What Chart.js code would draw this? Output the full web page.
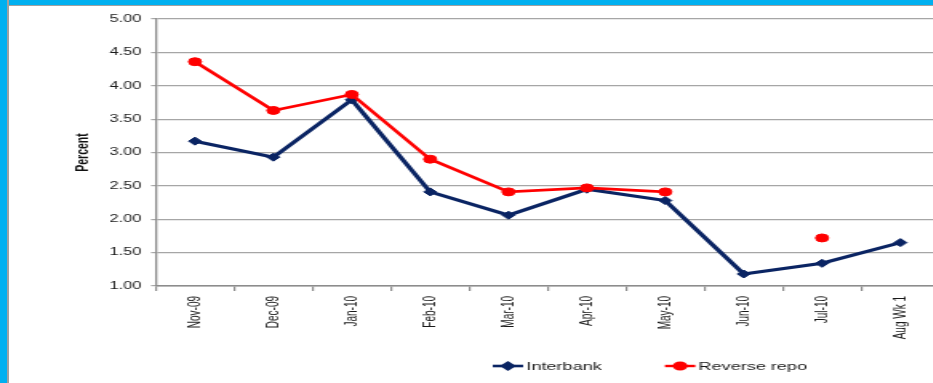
<!DOCTYPE html>
<html>
<head>
<meta charset="utf-8">
<script src="https://cdn.jsdelivr.net/npm/chart.js@4/dist/chart.umd.min.js"></script>
<style>
html,body{margin:0;padding:0;width:933px;height:383px;overflow:hidden;background:#fff;}
#wrap{position:absolute;left:0;top:0;width:592.3px;height:383px;transform:scaleX(1.6);transform-origin:0 0;}
#bl{position:absolute;left:0;top:0;width:7px;height:383px;background:#00b0f0;border-right:2px solid #a0a0a0;z-index:3;}
#bt{position:absolute;left:0;top:0;width:933px;height:5px;background:#00b0f0;border-bottom:1.5px solid #a0a0a0;z-index:2;}
</style>
</head>
<body>
<div id="bt"></div>
<div id="bl"></div>
<div id="wrap"><canvas id="c"></canvas></div>
<script>
const categories = ['Nov-09','Dec-09','Jan-10','Feb-10','Mar-10','Apr-10','May-10','Jun-10','Jul-10','Aug Wk 1'];
const seriesNames = ['Interbank','Reverse repo'];
const interbank = [3.17, 2.93, 3.79, 2.41, 2.06, 2.45, 2.28, 1.18, 1.34, 1.65];
const reverseRepo = [4.36, 3.63, 3.87, 2.90, 2.41, 2.47, 2.41, null, 1.72, null];
const yTickValues = [1.00, 1.50, 2.00, 2.50, 3.00, 3.50, 4.00, 4.50, 5.00];
const yTickLabels = ['1.00','1.50','2.00','2.50','3.00','3.50','4.00','4.50','5.00'];
const yTitle = 'Percent';

const NAVY = '#0a2463';
const RED = '#ff0000';
const FONT = "'Liberation Sans', Arial, sans-serif";

const legendPlugin = {
  id: 'customLegend',
  afterDraw(chart) {
    const ctx = chart.ctx;
    const items = [
      {label: seriesNames[0], color: NAVY, style: 'rectRot', x: 308, r: 3.2, lw: 2.6},
      {label: seriesNames[1], color: RED, style: 'circle', x: 415.6, r: 3.4, lw: 2.4}
    ];
    const y = 366;
    ctx.save();
    items.forEach(it => {
      ctx.strokeStyle = it.color;
      ctx.lineWidth = it.lw;
      ctx.beginPath();
      ctx.moveTo(it.x, y);
      ctx.lineTo(it.x + 19, y);
      ctx.stroke();
      ctx.fillStyle = it.color;
      Chart.helpers.drawPoint(ctx, {pointStyle: it.style, radius: it.r, rotation: 0, borderWidth: 1}, it.x + 9.5, y);
      ctx.fillStyle = '#1a1a1a';
      ctx.font = '11.3px ' + FONT;
      ctx.textBaseline = 'middle';
      ctx.textAlign = 'left';
      ctx.fillText(it.label, it.x + 21, y + 0.5);
    });
    ctx.restore();
  }
};

new Chart(document.getElementById('c'), {
  type: 'line',
  data: {
    labels: categories,
    datasets: [
      {
        label: seriesNames[0], data: interbank,
        borderColor: NAVY, backgroundColor: NAVY, borderWidth: 3.2,
        pointStyle: 'rectRot', pointRadius: 4, pointBorderWidth: 1,
        pointBorderColor: NAVY, pointBackgroundColor: NAVY,
        tension: 0, spanGaps: false, order: 2
      },
      {
        label: seriesNames[1], data: reverseRepo,
        borderColor: RED, backgroundColor: RED, borderWidth: 2.6,
        pointStyle: 'circle', pointRadius: 4, pointBorderWidth: 1,
        pointBorderColor: RED, pointBackgroundColor: RED,
        tension: 0, spanGaps: false, order: 1
      }
    ]
  },
  options: {
    responsive: true,
    maintainAspectRatio: false,
    animation: false,
    layout: {padding: {top: 19, left: 0, right: 0, bottom: 0}},
    plugins: {legend: {display: false}, tooltip: {enabled: false}},
    scales: {
      x: {
        offset: true,
        grid: {offset: true, drawOnChartArea: false, drawTicks: true, tickLength: 5, color: '#8c8c8c', lineWidth: 1.2},
        border: {color: '#8c8c8c', width: 1.6},
        ticks: {minRotation: 90, maxRotation: 90, autoSkip: false, padding: 5,
                font: {family: FONT, size: 10}, color: '#1a1a1a'},
        afterFit: s => { s.height = 97; }
      },
      y: {
        min: 1, max: 5,
        afterBuildTicks: s => { s.ticks = yTickValues.map(v => ({value: v})); },
        afterFit: s => { s.width = 97.4; },
        ticks: {callback: (v, i) => yTickLabels[i], padding: 6,
                font: {family: FONT, size: 10.2}, color: '#1a1a1a'},
        grid: {color: '#a6a6a6', lineWidth: 1.2, tickLength: 3, drawTicks: true},
        border: {color: '#8c8c8c', width: 1.3},
        title: {display: true, text: yTitle, color: '#111',
                font: {family: FONT, size: 10.5, weight: 'bold'},
                padding: {top: 45.5, bottom: 0}}
      }
    }
  },
  plugins: [legendPlugin]
});
</script>
</body>
</html>
